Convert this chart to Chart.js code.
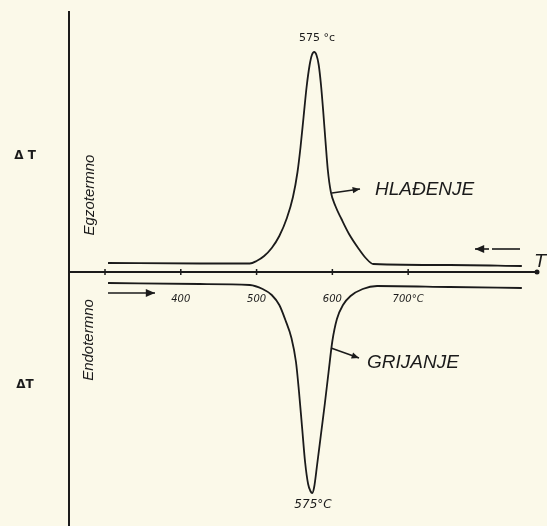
<!DOCTYPE html>
<html>
<head>
<meta charset="utf-8">
<script src="https://cdn.jsdelivr.net/npm/chart.js@4"></script>
<style>
  html,body{margin:0;padding:0;background:#fbf9e9;}
  #wrap{width:547px;height:526px;}
</style>
</head>
<body>
<div id="wrap"><canvas id="c" width="547" height="526"></canvas></div>
<script>
// Temperature (°C) and ΔT (arbitrary units)
const coolingT = [304, 425, 491, 500, 510, 520, 530, 540, 548, 554, 558, 562, 566, 570, 573, 576, 579, 582, 585, 588, 591, 594, 598, 604, 612, 622, 634, 644, 654, 755, 850];
const coolingDT = [9, 8.5, 8.5, 11, 16, 24, 36, 54, 75, 100, 125, 155, 185, 207, 217, 220, 217, 207, 187, 160, 130, 102, 80, 66, 53, 38, 24, 14, 8, 7, 6];
const heatingT = [304, 425, 491, 508, 520, 530, 538, 546, 552, 556, 560, 564, 568, 571, 573.5, 576, 580, 585, 590, 595, 600, 606, 614, 624, 640, 659, 755, 850];
const heatingDT = [-11, -12, -13, -17, -23, -33, -48, -66, -90, -120, -155, -190, -212, -219, -221, -215, -192, -162, -132, -100, -69, -47, -33, -24, -17, -14, -15, -16];
const tickValues = [300, 400, 500, 600, 700];
const tickLabels = ['', '400', '500', '600', '700°C'];

const ink = '#1b1b1b';
const toPts = (xs, ys) => xs.map((x, i) => ({x, y: ys[i]}));

const decor = {
  id: 'decor',
  afterDraw(chart) {
    const ctx = chart.ctx, a = chart.chartArea;
    const xs = chart.scales.x, ys = chart.scales.y;
    const y0 = ys.getPixelForValue(0);
    ctx.save();
    ctx.fillStyle = ink; ctx.strokeStyle = ink;
    ctx.lineWidth = 1.5;
    tickValues.forEach(v => {
      const px = xs.getPixelForValue(v);
      ctx.beginPath(); ctx.moveTo(px, y0 - 3); ctx.lineTo(px, y0 + 3); ctx.stroke();
    });
    ctx.beginPath(); ctx.arc(a.right, y0, 2.5, 0, Math.PI * 2); ctx.fill();
    ctx.font = 'italic 18px "DejaVu Sans"';
    ctx.textAlign = 'left'; ctx.textBaseline = 'middle';
    ctx.fillText('T', a.right - 2, y0 - 10);
    ctx.font = 'bold 12px "DejaVu Sans"';
    ctx.textAlign = 'center';
    ctx.fillText('\u0394 T', 25, 156);
    ctx.fillText('\u0394T', 25, 385);
    ctx.font = 'italic 15px "Liberation Sans"';
    ctx.save(); ctx.translate(90, 195); ctx.rotate(-Math.PI / 2);
    ctx.fillText('Egzotermno', 0, 0); ctx.restore();
    ctx.save(); ctx.translate(89, 340); ctx.rotate(-Math.PI / 2);
    ctx.fillText('Endotermno', 0, 0); ctx.restore();
    ctx.font = '11px "DejaVu Sans"';
    ctx.fillText('575 °c', 317, 38);
    ctx.font = 'italic 12px "DejaVu Sans"';
    ctx.fillText('575°C', 313, 505);
    ctx.font = 'italic 19px "Liberation Sans"';
    ctx.textAlign = 'left';
    ctx.fillText('HLAĐENJE', 375, 190);
    ctx.fillText('GRIJANJE', 367, 363);
    function arrow(x1, y1, x2, y2, head) {
      ctx.lineWidth = 1.6;
      ctx.beginPath(); ctx.moveTo(x1, y1); ctx.lineTo(x2, y2); ctx.stroke();
      const ang = Math.atan2(y2 - y1, x2 - x1);
      ctx.beginPath();
      ctx.moveTo(x2, y2);
      ctx.lineTo(x2 - head * Math.cos(ang - 0.4), y2 - head * Math.sin(ang - 0.4));
      ctx.lineTo(x2 - head * Math.cos(ang + 0.4), y2 - head * Math.sin(ang + 0.4));
      ctx.closePath(); ctx.fill();
    }
    arrow(332, 193, 360, 189, 8);
    arrow(331, 348, 359, 358, 8);
    arrow(108, 293, 155, 293, 10);
    ctx.beginPath(); ctx.moveTo(520, 249); ctx.lineTo(492, 249); ctx.stroke();
    arrow(489, 249, 475, 249, 10);
    ctx.restore();
  }
};

new Chart(document.getElementById('c'), {
  type: 'scatter',
  data: {
    datasets: [
      { label: 'Hlađenje', data: toPts(coolingT, coolingDT), showLine: true,
        borderColor: ink, borderWidth: 1.8, pointRadius: 0, cubicInterpolationMode: 'monotone' },
      { label: 'Grijanje', data: toPts(heatingT, heatingDT), showLine: true,
        borderColor: ink, borderWidth: 1.8, pointRadius: 0, cubicInterpolationMode: 'monotone' }
    ]
  },
  options: {
    responsive: false,
    animation: false,
    layout: { padding: { left: 69, right: 10, top: 12, bottom: 0 } },
    plugins: { legend: { display: false }, tooltip: { enabled: false } },
    scales: {
      x: {
        type: 'linear', min: 252.5, max: 870,
        position: { y: 0 },
        afterBuildTicks: s => { s.ticks = tickValues.map(v => ({ value: v })); },
        grid: { display: false, drawOnChartArea: false },
        border: { display: true, color: ink, width: 2 },
        ticks: {
          color: ink, padding: 13,
          font: { family: '"DejaVu Sans"', size: 10, style: 'italic' },
          callback: (v) => tickLabels[tickValues.indexOf(v)] ?? ''
        }
      },
      y: {
        type: 'linear', min: -254, max: 260,
        afterFit: s => { s.width = 0; },
        grid: { display: false },
        border: { display: true, color: ink, width: 2 },
        ticks: { display: false }
      }
    }
  },
  plugins: [decor]
});
</script>
</body>
</html>
